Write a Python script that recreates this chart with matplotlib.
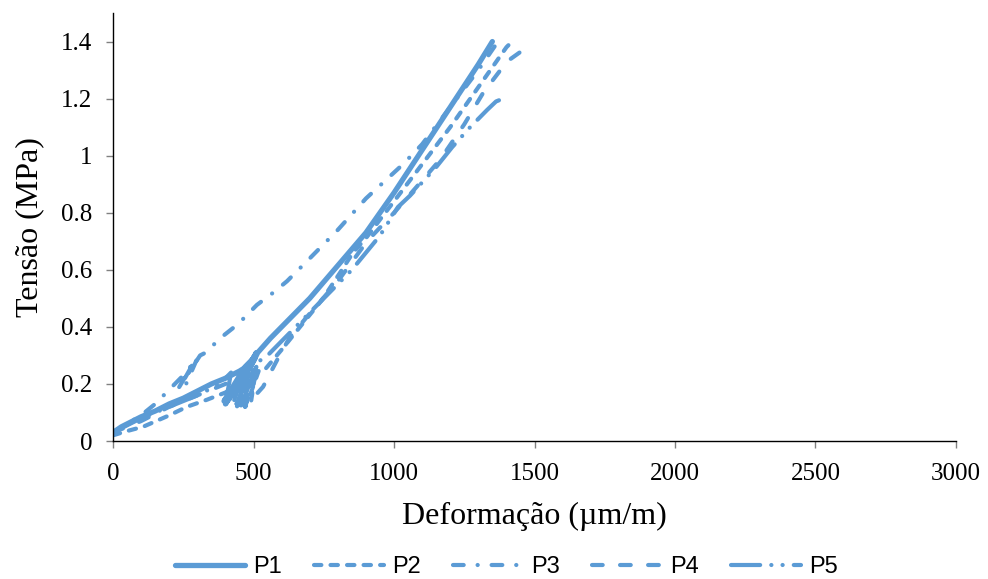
import matplotlib
matplotlib.use("Agg")
import matplotlib.pyplot as plt

plt.rcParams['lines.scale_dashes'] = False

# P1 - solid
p1_x = [0, 30, 60, 100, 150, 200, 250, 300, 350, 400, 450, 490, 505,
        440, 395, 470, 500, 420, 400, 480, 505, 430, 410, 495, 510, 450, 430, 500, 515,
        560, 630, 700, 800, 900, 1000, 1100, 1200, 1300, 1350]
p1_y = [0.03, 0.05, 0.065, 0.085, 0.105, 0.13, 0.15, 0.175, 0.2, 0.22, 0.245, 0.27, 0.3,
        0.2, 0.14, 0.26, 0.29, 0.16, 0.13, 0.25, 0.29, 0.18, 0.15, 0.27, 0.31, 0.2, 0.17, 0.28, 0.31,
        0.36, 0.43, 0.5, 0.615, 0.73, 0.87, 1.02, 1.17, 1.32, 1.4]

# P2 - short dash
p2_x = [0, 50, 107, 200, 263, 335, 400, 450, 480,
        440, 470, 500, 450, 490, 510, 460, 480, 520,
        540, 600, 690, 744, 808, 854, 904, 950, 1000, 1100, 1200, 1300, 1400, 1420]
p2_y = [0.02, 0.035, 0.05, 0.09, 0.12, 0.145, 0.17, 0.2, 0.24,
        0.13, 0.12, 0.25, 0.14, 0.13, 0.26, 0.15, 0.14, 0.25,
        0.25, 0.32, 0.43, 0.495, 0.59, 0.66, 0.716, 0.776, 0.84, 0.97, 1.1, 1.24, 1.38, 1.4]

# P3 - dash dot
p3_x = [0, 50, 100, 150, 200, 250, 300,
        260, 230, 290, 250, 310,
        330, 381, 445, 512, 570, 619, 700, 800, 900, 1032, 1100, 1200, 1300, 1370]
p3_y = [0.03, 0.06, 0.09, 0.13, 0.18, 0.23, 0.29,
        0.2, 0.18, 0.28, 0.21, 0.3,
        0.31, 0.36, 0.41, 0.477, 0.52, 0.56, 0.64, 0.74, 0.85, 0.97, 1.04, 1.17, 1.3, 1.4]

# P4 - dash
p4_x = [0, 100, 200, 300, 400, 470,
        430, 460, 500, 470, 440, 490, 505, 470,
        534, 584, 630, 690, 800, 904, 1000, 1093, 1164, 1250, 1317, 1402, 1473, 1490]
p4_y = [0.03, 0.07, 0.12, 0.16, 0.2, 0.25,
        0.14, 0.13, 0.24, 0.12, 0.16, 0.26, 0.22, 0.12,
        0.19, 0.284, 0.365, 0.435, 0.56, 0.70, 0.80, 0.905, 0.986, 1.11, 1.22, 1.33, 1.38, 1.4]

# P5 - long dash dot dot
p5_x = [0, 100, 200, 300, 380, 420,
        400, 450, 470, 420, 480, 410, 440, 490,
        550, 650, 750, 850, 950, 1014, 1057, 1150, 1207, 1271, 1331, 1363, 1388]
p5_y = [0.03, 0.08, 0.12, 0.16, 0.2, 0.24,
        0.13, 0.12, 0.25, 0.15, 0.22, 0.14, 0.13, 0.26,
        0.3, 0.4, 0.5, 0.6, 0.72, 0.82, 0.86, 0.96, 1.03, 1.10, 1.16, 1.19, 1.2]

labels = ['P1', 'P2', 'P3', 'P4', 'P5']
color = '#5B9BD5'

fig = plt.figure(figsize=(9.88, 5.79), dpi=100)
ax = fig.add_axes([0.1144, 0.2383, 0.8532, 0.7392])

lw = 3.0
ax.plot(p1_x, p1_y, color=color, lw=3.8, solid_capstyle='round', solid_joinstyle='round', label=labels[0])
ax.plot(p2_x, p2_y, color=color, lw=lw, dash_capstyle='round', linestyle=(0, (5.3, 6.6)), label=labels[1])
ax.plot(p3_x, p3_y, color=color, lw=lw, dash_capstyle='round', linestyle=(0, (7.7, 10.0, 0.1, 10.0)), label=labels[2])
ax.plot(p4_x, p4_y, color=color, lw=lw, dash_capstyle='round', linestyle=(0, (7.7, 12.5)), label=labels[3])
ax.plot(p5_x, p5_y, color=color, lw=lw, dash_capstyle='round', linestyle=(0, (21.0, 8.0, 0.1, 8.0, 0.1, 8.0)), label=labels[4])

ax.set_xlim(0, 3000)
ax.set_ylim(0, 1.5)
ax.set_xticks(range(0, 3001, 500))
ax.set_yticks([0, 0.2, 0.4, 0.6, 0.8, 1.0, 1.2, 1.4])
ax.set_yticklabels(['0', '0.2', '0.4', '0.6', '0.8', '1', '1.2', '1.4'])

for s in ['top', 'right']:
    ax.spines[s].set_visible(False)
for s in ['left', 'bottom']:
    ax.spines[s].set_linewidth(1.0)
ax.tick_params(direction='out', length=5, width=1, color='#808080', labelsize=18)
ax.tick_params(axis='y', pad=10)
ax.tick_params(axis='x', pad=11)
for t in ax.get_xticklabels() + ax.get_yticklabels():
    t.set_fontfamily('Liberation Serif')

ax.set_xlabel('Deformação (µm/m)', fontsize=23, family='Liberation Serif', labelpad=12)
ax.set_ylabel('Tensão (MPa)', fontsize=23, family='Liberation Serif', labelpad=12)

fig.legend(loc='center', bbox_to_anchor=(506 / 988, 1 - 567 / 579), ncol=5, frameon=False,
           prop={'family': 'Liberation Sans', 'size': 17},
           handlelength=2.97, columnspacing=1.36, handletextpad=0.34)

fig.savefig('out.png', dpi=100)
